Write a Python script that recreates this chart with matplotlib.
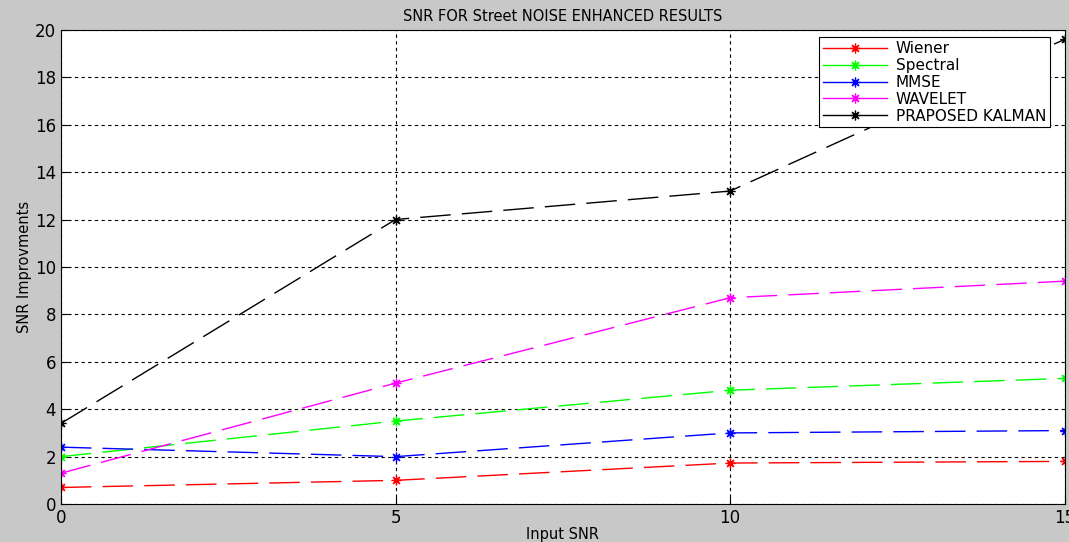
import matplotlib
matplotlib.use('Agg')
import matplotlib.pyplot as plt
from matplotlib.lines import Line2D

# data
input_snr = [0, 5, 10, 15]
wiener = [0.7, 1.0, 1.73, 1.8]
spectral = [2.0, 3.5, 4.8, 5.3]
mmse = [2.4, 2.0, 3.0, 3.1]
wavelet = [1.3, 5.1, 8.7, 9.4]
kalman = [3.4, 12.0, 13.2, 19.6]

series_names = ['Wiener', 'Spectral', 'MMSE', 'WAVELET', 'PRAPOSED KALMAN']
series_colors = ['#ff0000', '#00ff00', '#0000ff', '#ff00ff', '#000000']

star = (8, 2, 0)  # thin asterisk like matlab '*'

fig = plt.figure(figsize=(10.69, 5.42), dpi=100, facecolor='#c8c8c8')
ax = fig.add_axes([0.057, 0.070, 0.939, 0.875])

handles = []
for vals, name, col in zip([wiener, spectral, mmse, wavelet, kalman], series_names, series_colors):
    ln, = ax.plot(input_snr, vals, color=col, linewidth=1.0,
                  marker=star, markersize=7, markeredgewidth=0.9)
    ln.set_dashes([22, 8])
    handles.append(Line2D([], [], color=col, linewidth=1.0, marker=star,
                          markersize=7, markeredgewidth=0.9, label=name))

ax.set_xlim(0, 15)
ax.set_ylim(0, 20)
ax.set_xticks([0, 5, 10, 15])
ax.set_yticks(range(0, 21, 2))
ax.grid(True, color='black', linestyle=(0, (3, 3)), linewidth=0.8)
ax.tick_params(direction='in', labelsize=12, length=5)
ax.set_title('SNR FOR Street NOISE ENHANCED RESULTS', fontsize=10.5, pad=6)
ax.set_xlabel('Input SNR', fontsize=10.5, labelpad=0)
ax.set_ylabel('SNR Improvments', fontsize=10.5, labelpad=2)

leg = ax.legend(handles=handles, loc='upper right', fontsize=11, fancybox=False,
                framealpha=1, edgecolor='black', borderaxespad=0.5,
                handlelength=4.2, labelspacing=0.12, borderpad=0.25,
                handletextpad=0.6, bbox_to_anchor=(0.993, 1.0))
leg.get_frame().set_linewidth(0.8)

fig.savefig('out.png', dpi=100, facecolor=fig.get_facecolor())
